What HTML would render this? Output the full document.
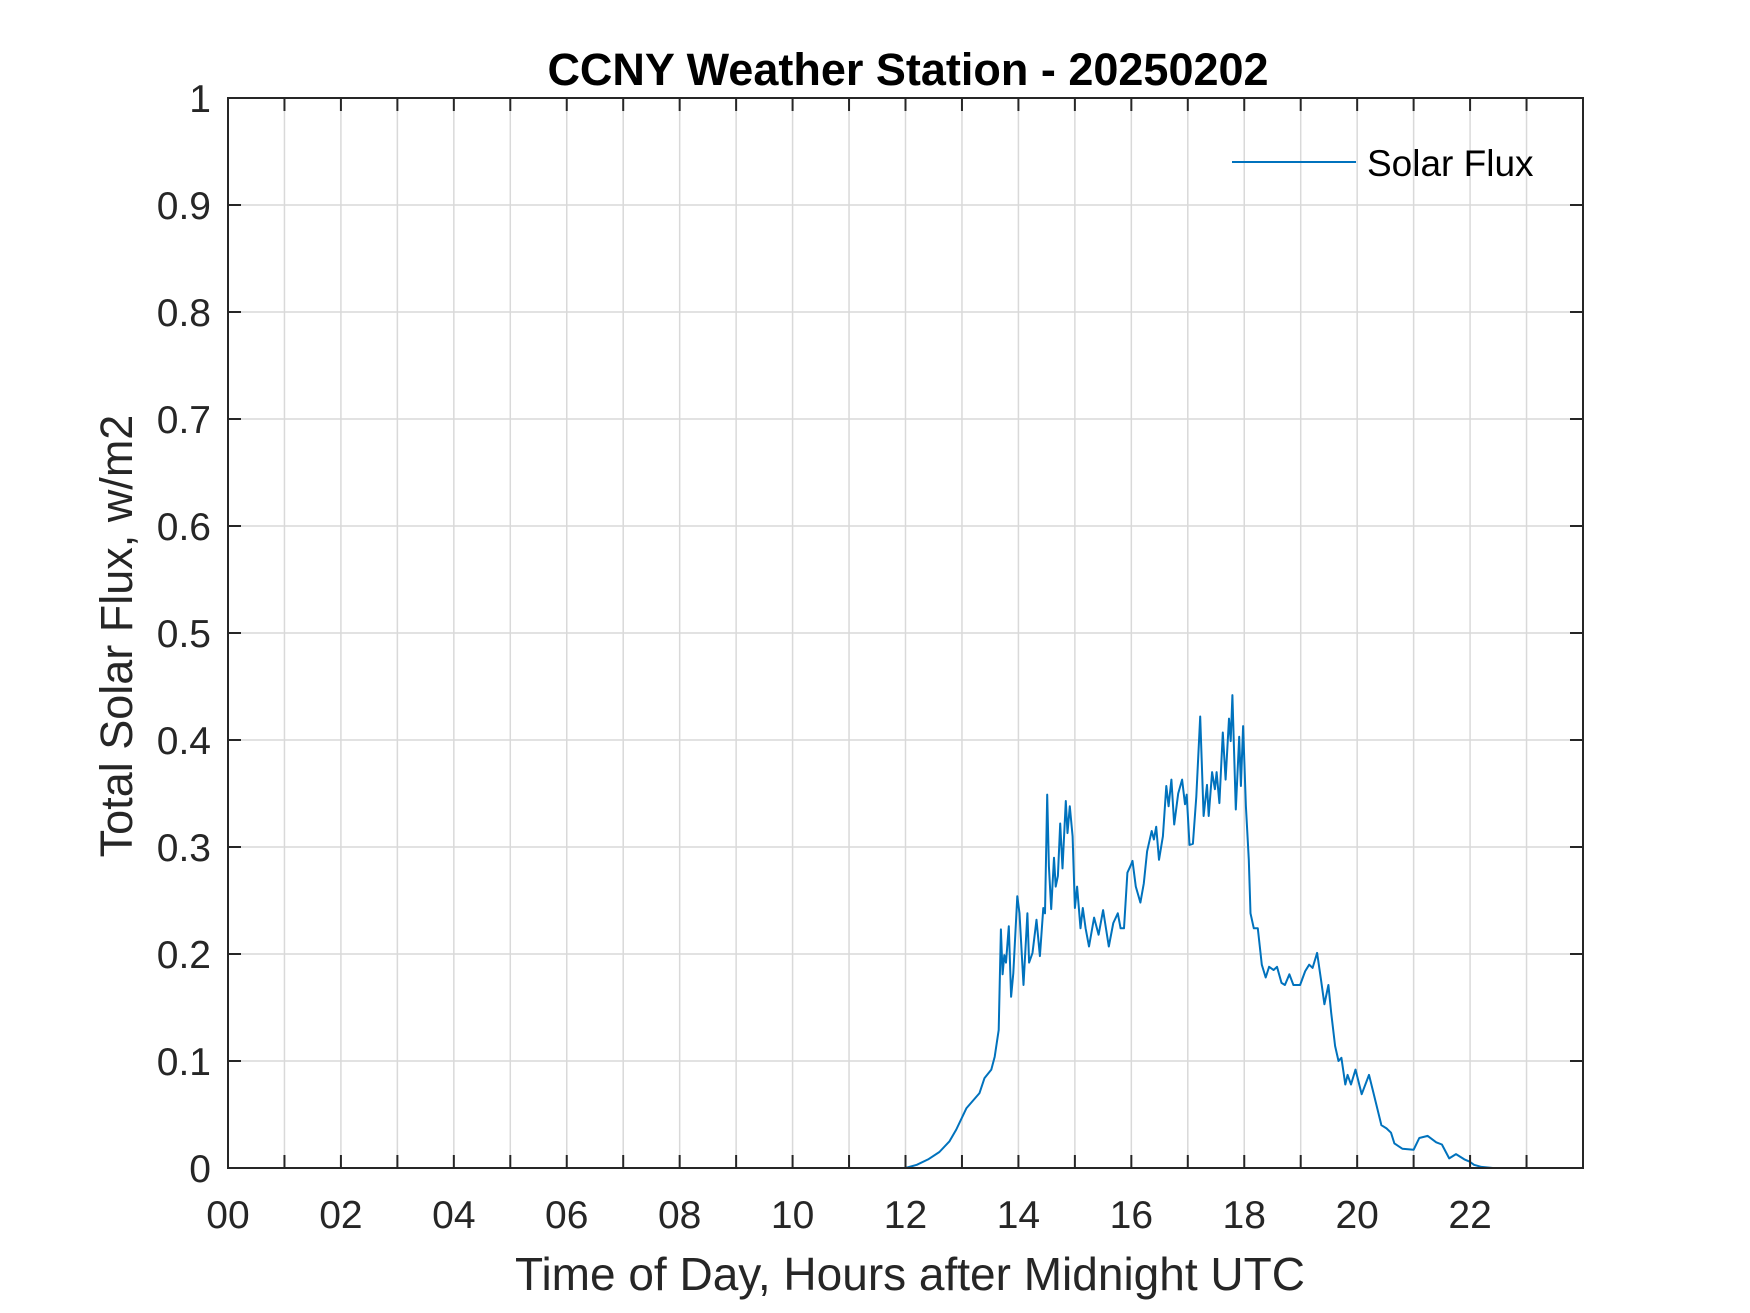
<!DOCTYPE html>
<html><head><meta charset="utf-8">
<style>
html,body{margin:0;padding:0;background:#fff;}
svg{display:block;font-family:"Liberation Sans",Arial,sans-serif;}
</style></head>
<body>
<svg id="chart" width="1750" height="1313" viewBox="0 0 1750 1313" xmlns="http://www.w3.org/2000/svg">
<rect x="0" y="0" width="1750" height="1313" fill="#fff"/>
<g id="grid"></g>
<g id="series"></g>
<g id="axes"></g>
<text x="908" y="85" text-anchor="middle" font-size="45" font-weight="bold" fill="#000">CCNY Weather Station - 20250202</text>
<text x="910" y="1290" text-anchor="middle" font-size="46" fill="#262626">Time of Day, Hours after Midnight UTC</text>
<text transform="translate(132,636) rotate(-90)" text-anchor="middle" font-size="45" fill="#262626">Total Solar Flux, w/m2</text>
<g>
<line x1="1232" y1="162" x2="1356" y2="162" stroke="#0072BD" stroke-width="2"/>
<text x="1367" y="176" font-size="37" fill="#000">Solar Flux</text>
</g>
</svg>
<script>
const hours = [0,12.0,12.2,12.4,12.6,12.78,12.90,13.08,13.31,13.40,13.52,13.58,13.65,13.69,13.72,13.75,13.78,13.83,13.87,13.91,13.98,14.02,14.09,14.16,14.19,14.25,14.32,14.38,14.44,14.47,14.51,14.54,14.58,14.63,14.66,14.70,14.74,14.78,14.84,14.87,14.91,14.96,15.00,15.04,15.10,15.14,15.19,15.25,15.34,15.42,15.50,15.60,15.68,15.76,15.81,15.87,15.93,15.99,16.02,16.08,16.16,16.22,16.28,16.36,16.40,16.44,16.49,16.56,16.62,16.66,16.71,16.76,16.83,16.90,16.95,16.98,17.03,17.09,17.15,17.22,17.28,17.34,17.37,17.43,17.48,17.51,17.56,17.62,17.67,17.73,17.76,17.79,17.85,17.91,17.94,17.98,18.03,18.08,18.11,18.17,18.24,18.31,18.38,18.44,18.52,18.58,18.66,18.72,18.80,18.87,18.99,19.08,19.15,19.21,19.29,19.36,19.42,19.49,19.54,19.61,19.67,19.72,19.79,19.83,19.89,19.97,20.08,20.21,20.28,20.43,20.52,20.60,20.66,20.8,21.0,21.1,21.25,21.4,21.5,21.63,21.75,21.9,21.99,22.07,22.2,22.4,24];
const flux = [0,0,0.003,0.008,0.015,0.025,0.036,0.056,0.070,0.084,0.092,0.104,0.129,0.223,0.181,0.199,0.192,0.226,0.160,0.182,0.254,0.238,0.171,0.238,0.192,0.201,0.232,0.198,0.243,0.238,0.349,0.282,0.242,0.290,0.263,0.273,0.322,0.280,0.343,0.313,0.338,0.310,0.243,0.263,0.224,0.243,0.224,0.207,0.234,0.218,0.241,0.207,0.229,0.238,0.224,0.224,0.276,0.283,0.287,0.263,0.248,0.266,0.296,0.315,0.307,0.319,0.288,0.310,0.357,0.338,0.363,0.321,0.350,0.363,0.340,0.349,0.302,0.303,0.347,0.422,0.329,0.358,0.329,0.370,0.354,0.370,0.341,0.407,0.363,0.420,0.399,0.442,0.335,0.403,0.357,0.413,0.338,0.288,0.238,0.224,0.224,0.190,0.178,0.188,0.185,0.188,0.173,0.171,0.181,0.171,0.171,0.184,0.190,0.187,0.201,0.176,0.153,0.171,0.145,0.114,0.100,0.103,0.078,0.087,0.078,0.092,0.069,0.087,0.072,0.040,0.037,0.033,0.023,0.018,0.017,0.028,0.030,0.024,0.022,0.009,0.013,0.008,0.006,0.003,0.001,0,0];
const xTickLabels = ["00","02","04","06","08","10","12","14","16","18","20","22"];
const yTickLabels = ["0","0.1","0.2","0.3","0.4","0.5","0.6","0.7","0.8","0.9","1"];

const L=228,R=1583,T=98,B=1168;
const X0=0,X1=24,Y0=0,Y1=1;
function xs(h){return L+(h-X0)/(X1-X0)*(R-L);}
function ys(v){return B-(v-Y0)/(Y1-Y0)*(B-T);}
const NS="http://www.w3.org/2000/svg";
function mk(tag,attrs,parent){const e=document.createElementNS(NS,tag);for(const k in attrs)e.setAttribute(k,attrs[k]);parent.appendChild(e);return e;}
const grid=document.getElementById('grid'),axes=document.getElementById('axes'),series=document.getElementById('series');

for(let h=1;h<24;h++){
  const x=xs(h);
  const g=mk('line',{x1:x,y1:T,x2:x,y2:B,stroke:'#d9d9d9','stroke-width':1.5},grid);
  
  
}
for(let i=1;i<yTickLabels.length-1;i++){
  const y=ys(parseFloat(yTickLabels[i]));
  const g=mk('line',{x1:L,y1:y,x2:R,y2:y,stroke:'#d9d9d9','stroke-width':1.5},grid);
  
  
}
let pts=hours.map((h,i)=>xs(h).toFixed(1)+','+ys(flux[i]).toFixed(1)).join(' ');
const line=mk('polyline',{points:pts,fill:'none',stroke:'#0072BD','stroke-width':2,'stroke-linejoin':'round'},series);



const box=mk('rect',{x:L,y:T,width:R-L,height:B-T,fill:'none',stroke:'#262626','stroke-width':2},axes);


for(let h=0;h<24;h++){
  const x=xs(h);
  const t1=mk('line',{x1:x,y1:B,x2:x,y2:B-13,stroke:'#262626','stroke-width':2},axes);
  
  
  const t2=mk('line',{x1:x,y1:T,x2:x,y2:T+13,stroke:'#262626','stroke-width':2},axes);
  
  
}
xTickLabels.forEach((lab,i)=>{
  const t=mk('text',{x:xs(i*2),y:1228,'text-anchor':'middle','font-size':39,fill:'#262626'},axes);
  t.textContent=lab;
  
  
});
yTickLabels.forEach((lab)=>{
  const y=ys(parseFloat(lab));
  const t1=mk('line',{x1:L,y1:y,x2:L+13,y2:y,stroke:'#262626','stroke-width':2},axes);
  
  
  const t2=mk('line',{x1:R,y1:y,x2:R-13,y2:y,stroke:'#262626','stroke-width':2},axes);
  
  
  const t=mk('text',{x:211,y:y+14,'text-anchor':'end','font-size':39,fill:'#262626'},axes);
  t.textContent=lab;
  
  
});
</script>
</body></html>
